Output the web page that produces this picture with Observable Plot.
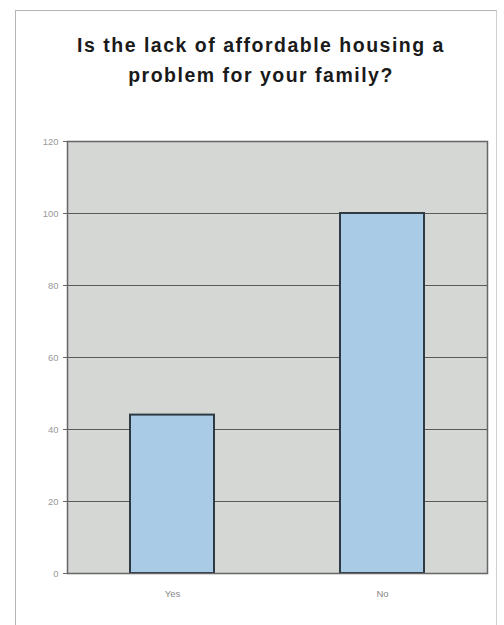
<!DOCTYPE html>
<html>
<head>
<meta charset="utf-8">
<script src="https://cdn.jsdelivr.net/npm/d3@7"></script>
<script src="https://cdn.jsdelivr.net/npm/@observablehq/plot@0.6"></script>
<style>
  html, body { margin: 0; padding: 0; background: #fff; width: 504px; height: 625px; overflow: hidden; }
  #frame { position: absolute; left: 15px; top: 10px; width: 482px; height: 620px; border: 1px solid #b5b5b5; border-right-color: #d0d0d0; box-sizing: border-box; }
  #title { position: absolute; left: 0; top: 30px; width: 522px; text-align: center; font-family: "Liberation Sans", Arial, sans-serif; font-weight: bold; font-size: 19.5px; letter-spacing: 1.5px; line-height: 30px; color: #1a1a1a; }
  #chart { position: absolute; left: 0; top: 120px; }
</style>
</head>
<body>
<div id="frame"></div>
<div id="title">Is the lack of affordable housing a<br>problem for your family?</div>
<div id="chart"></div>
<script>
const categories = ["Yes", "No"];
const values = [44, 100];
const yTicks = [0, 20, 40, 60, 80, 100, 120];

const data = categories.map((c, i) => ({answer: c, count: values[i]}));

const chart = Plot.plot({
  width: 504,
  height: 490,
  marginLeft: 67,
  marginRight: 17,
  marginTop: 21,
  marginBottom: 37,
  style: {fontFamily: "Liberation Sans, Arial, sans-serif", fontSize: "9.5px", color: "#888", background: "transparent"},
  x: {domain: categories, paddingInner: 0.6, paddingOuter: 0.3, label: null},
  y: {domain: [0, 120], label: null},
  marks: [
    Plot.frame({fill: "#d5d7d4", stroke: "none"}),
    Plot.ruleY(yTicks, {stroke: "#5a5a5a", strokeWidth: 1}),
    Plot.barY(data, {x: "answer", y: "count", fill: "#a9cbe6", stroke: "#2e3a44", strokeWidth: 2}),
    Plot.frame({stroke: "#666", strokeWidth: 1.5}),
    Plot.axisY({ticks: yTicks, tickSize: 4, tickPadding: 5, stroke: "#666", color: "#999"}),
    Plot.axisX({tickSize: 0, tickPadding: 17, color: "#888"})
  ]
});
document.getElementById("chart").appendChild(chart);
</script>
</body>
</html>
